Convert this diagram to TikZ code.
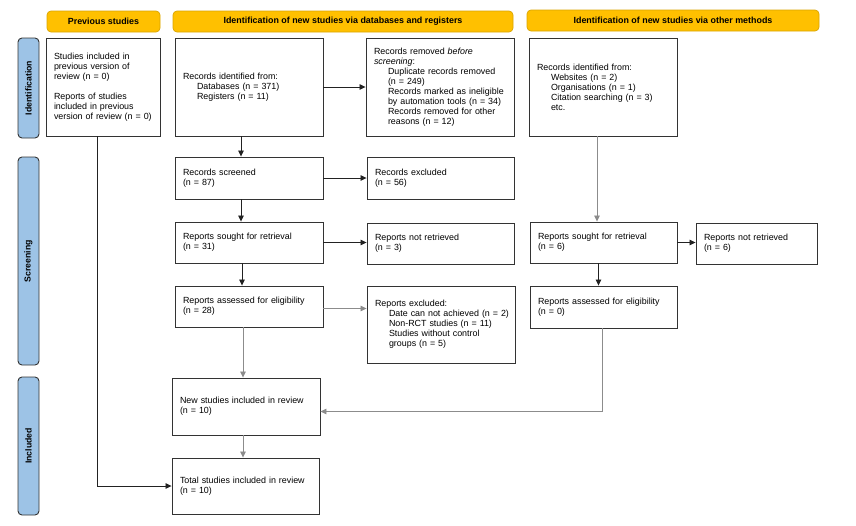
\documentclass[tikz,border=0pt]{standalone}
\usepackage{fontspec}
\setmainfont{Liberation Sans}
\usetikzlibrary{arrows.meta,calc}
\definecolor{hdr}{HTML}{FFC000}
\definecolor{hdrb}{HTML}{D9A400}
\definecolor{side}{HTML}{9DC3E6}
\definecolor{boxb}{HTML}{333333}
\definecolor{lnk}{HTML}{222222}
\definecolor{lnkg}{HTML}{8C8C8C}
\newcommand{\ind}{\hspace*{14pt}}
\newcommand{\bx}[6]{%
  \pgfmathsetmacro{\myBW}{#4-#2}\pgfmathsetmacro{\myBH}{#5-#3}\pgfmathsetmacro{\myTW}{#4-#2-16}%
  \node[fbox,minimum width=\myBW pt,minimum height=\myBH pt,text width=\myTW pt] (#1) at ({(#2+#4)/2},{(#3+#5)/2}) {#6};}
\newcommand{\hd}[6]{%
  \pgfmathsetmacro{\myBW}{#4-#2}\pgfmathsetmacro{\myBH}{#5-#3}%
  \node[hbox,minimum width=\myBW pt,minimum height=\myBH pt] (#1) at ({(#2+#4)/2},{(#3+#5)/2}) {#6};}
\newcommand{\sd}[6]{%
  \pgfmathsetmacro{\myBW}{#5-#3}\pgfmathsetmacro{\myBH}{#4-#2}%
  \node[sbox,minimum width=\myBW pt,minimum height=\myBH pt] (#1) at ({(#2+#4)/2},{(#3+#5)/2}) {#6};}
\tikzset{
  every node/.style={font=\fontsize{8.9}{10}\selectfont},
  fbox/.style={draw=boxb,line width=0.9pt,fill=white,align=left,inner xsep=8pt,inner ysep=0pt},
  hbox/.style={draw=hdrb,line width=0.7pt,fill=hdr,rounded corners=4pt,inner sep=0pt,font=\fontsize{8.9}{10}\selectfont\bfseries},
  sbox/.style={draw=boxb,line width=0.9pt,fill=side,rounded corners=4pt,inner sep=0pt,rotate=90,font=\fontsize{8.7}{10}\selectfont\bfseries},
  arr/.style={-{Triangle[length=6pt,width=5.5pt]},line width=0.8pt,draw=lnk},
  arrg/.style={arr,draw=lnkg},
}
\begin{document}
\begin{tikzpicture}[x=1pt,y=-1pt]
\useasboundingbox (0,0) rectangle (856,525);
% headers
\hd{h1}{47}{11}{160}{32}{Previous studies}
\hd{h2}{173}{11}{513}{32}{Identification of new studies via databases and registers}
\hd{h3}{527}{10}{819}{31}{Identification of new studies via other methods}
% side labels
\sd{s1}{18}{38}{39}{138}{Identification}
\sd{s2}{18}{157}{39}{365}{Screening}
\sd{s3}{18}{377}{39}{515}{Included}
% boxes
\bx{prev}{46}{38}{160}{136}{Studies included in\\previous version of\\review (n = 0)\\[10pt]Reports of studies\\included in previous\\version of review (n = 0)}
\bx{recid}{175}{38}{323}{136}{Records identified from:\\\ind Databases (n = 371)\\\ind Registers (n = 11)}
\bx{recrem}{366}{38}{514}{136}{Records removed \textit{before}\\\textit{screening}:\\\ind Duplicate records removed\\\ind (n = 249)\\\ind Records marked as ineligible\\\ind\mbox{by automation tools (n = 34)}\\\ind Records removed for other\\\ind reasons (n = 12)}
\bx{othid}{529}{38}{677}{136}{Records identified from:\\\ind Websites (n = 2)\\\ind Organisations (n = 1)\\\ind Citation searching (n = 3)\\\ind etc.}
\bx{screened}{175}{157}{323}{199}{Records screened\\(n = 87)}
\bx{excluded}{367}{157}{514}{199}{Records excluded\\(n = 56)}
\bx{sought}{175}{222}{323}{263}{Reports sought for retrieval\\(n = 31)}
\bx{notret}{367}{223}{514}{264}{Reports not retrieved\\(n = 3)}
\bx{othsought}{530}{222}{677}{263}{Reports sought for retrieval\\(n = 6)}
\bx{othnotret}{696}{223}{817}{264}{Reports not retrieved\\(n = 6)}
\bx{assessed}{175}{286}{323}{327}{Reports assessed for eligibility\\(n = 28)}
\bx{repexcl}{367}{286}{515}{363}{Reports excluded:\\\ind\mbox{Date can not achieved (n = 2)}\\\ind Non-RCT studies (n = 11)\\\ind Studies without control\\\ind groups (n = 5)}
\bx{othassessed}{530}{286}{677}{328}{Reports assessed for eligibility\\(n = 0)}
\bx{new}{172}{378}{320}{435}{New studies included in review\\(n = 10)}
\bx{total}{172}{458}{319}{514}{Total studies included in review\\(n = 10)}
% connectors
\draw[arr] (recid.east) -- (recrem.west);
\draw[arr] ([xshift=-8pt]recid.south) -- ([xshift=-8pt]recid.south |- screened.north);
\draw[arr] (screened.east) -- (excluded.west);
\draw[arr] ([xshift=-8pt]screened.south) -- ([xshift=-8pt]screened.south |- sought.north);
\draw[arr] (sought.east) -- (sought.east -| notret.west);
\draw[arr] ([xshift=-7pt]sought.south) -- ([xshift=-7pt]sought.south |- assessed.north);
\draw[arrg] ([yshift=-2pt]assessed.east) -- ([yshift=-2pt]assessed.east -| repexcl.west);
\draw[arrg] ([xshift=-6pt]assessed.south) -- ([xshift=-6pt]assessed.south |- new.north);
\draw[arrg] ([xshift=-3pt]new.south) -- ([xshift=-3pt]new.south |- total.north);
\draw[arr] ([xshift=-6pt]prev.south) |- (total.west);
\draw[arrg] ([xshift=-6pt]othid.south) -- ([xshift=-6pt]othid.south |- othsought.north);
\draw[arr] (othsought.east) -- (othsought.east -| othnotret.west);
\draw[arr] ([xshift=-5pt]othsought.south) -- ([xshift=-5pt]othsought.south |- othassessed.north);
\draw[arrg] ([xshift=-1pt]othassessed.south) |- ([yshift=-5pt]new.east);
\end{tikzpicture}
\end{document}
